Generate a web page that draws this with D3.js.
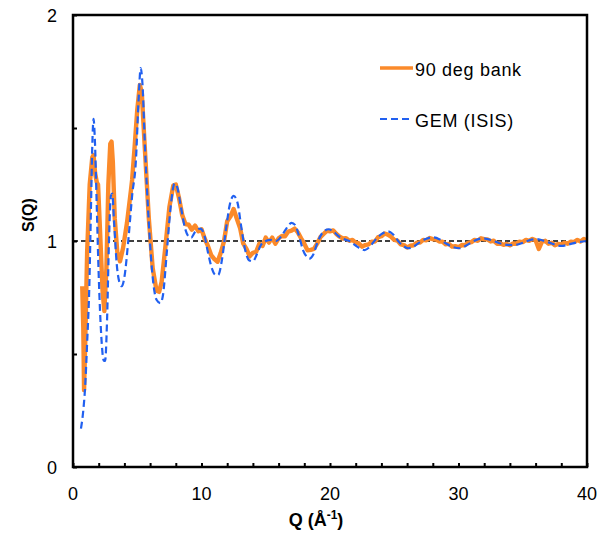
<!DOCTYPE html>
<html>
<head>
<meta charset="utf-8">
<script src="https://cdn.jsdelivr.net/npm/d3@7"></script>
<style>
  html, body { margin: 0; padding: 0; background: #fff; }
  svg text { font-family: "Liberation Sans", Arial, sans-serif; }
</style>
</head>
<body>
<svg id="chart" width="609" height="534"></svg>
<script>
// ---- data ----
const xTickValues = [0, 10, 20, 30, 40];
const yTickValues = [0, 1, 2];
const seriesNames = ["90 deg bank", "GEM (ISIS)"];

const bankQ = [0.72,0.80,0.86,0.95,1.1,1.3,1.5,1.6,1.72,1.85,1.95,2.1,2.3,2.44,2.6,2.75,2.9,3.0,3.1,3.25,3.45,3.66,3.9,4.2,4.5,4.6,4.8,5.0,5.2,5.35,5.6,5.9,6.2,6.5,6.7,6.9,7.2,7.5,7.8,
8.0,8.25,8.5,8.75,9.0,9.25,9.5,9.75,10.0,10.25,10.5,10.75,11.0,11.25,11.5,11.75,12.0,12.25,12.5,12.75,13.0,13.25,13.5,13.75,14.0,14.25,14.5,14.75,15.0,15.25,15.5,15.75,16.0,16.25,16.5,16.75,17.0,17.25,17.5,17.75,18.0,18.25,18.5,18.75,19.0,19.25,19.5,19.75,20.0,20.25,20.5,20.75,21.0,21.25,21.5,21.75,22.0,22.25,22.5,22.75,23.0,23.25,23.5,23.75,24.0,24.25,24.5,24.75,25.0,25.25,25.5,25.75,26.0,26.25,26.5,26.75,27.0,27.25,27.5,27.75,28.0,28.25,28.5,28.75,29.0,29.25,29.5,29.75,30.0,30.25,30.5,30.75,31.0,31.25,31.5,31.75,32.0,32.25,32.5,32.75,33.0,33.25,33.5,33.75,34.0,34.25,34.5,34.75,35.0,35.25,35.5,35.75,36.0,36.25,36.5,36.75,37.0,37.25,37.5,37.75,38.0,38.25,38.5,38.75,39.0,39.25,39.5,39.75,40.0];
const bankS = [0.80,0.62,0.34,0.55,0.95,1.25,1.37,1.38,1.30,1.26,1.25,1.05,0.78,0.69,0.88,1.25,1.43,1.44,1.35,1.10,0.95,0.91,0.97,1.08,1.22,1.27,1.42,1.58,1.69,1.66,1.40,1.10,0.88,0.78,0.775,0.82,0.98,1.15,1.245,
1.25,1.19,1.115,1.075,1.072,1.05,1.068,1.043,1.052,1.01,0.978,0.938,0.92,0.908,0.948,0.998,1.088,1.108,1.142,1.098,1.058,0.988,0.965,0.932,0.948,0.952,0.988,0.978,1.015,0.993,1.015,0.988,1.012,1.022,1.021,1.042,1.046,1.055,1.038,1.012,0.988,0.959,0.961,0.965,0.988,1.017,1.031,1.045,1.043,1.047,1.031,1.019,1.011,1.012,1.001,1.005,0.993,0.989,0.975,0.982,0.985,0.997,0.998,1.017,1.021,1.033,1.028,1.019,1.005,1.002,0.985,0.982,0.971,0.979,0.981,0.992,0.993,1.005,1.003,1.013,1.008,1.007,0.998,0.997,0.985,0.987,0.975,0.977,0.973,0.982,0.981,0.992,0.995,1.005,1.001,1.012,1.008,1.007,0.998,1.001,0.988,0.989,0.983,0.987,0.981,0.989,0.988,0.997,0.995,1.005,1.001,1.009,1.003,0.965,0.997,1.001,0.988,0.992,0.981,0.987,0.985,0.992,0.988,0.997,0.995,1.005,0.998,1.009,1.0];

const gemQ = [0.62,0.8,0.95,1.1,1.27,1.4,1.5,1.6,1.7,1.85,2.0,2.2,2.4,2.5,2.65,2.8,2.95,3.05,3.2,3.4,3.6,3.8,4.0,4.3,4.6,4.9,5.1,5.27,5.4,5.6,5.9,6.2,6.5,6.8,7.0,7.3,7.6,7.9,8.1,8.4,8.7,9.0,9.2,9.5,9.9,10.2,10.5,10.8,11.1,11.3,11.6,11.9,12.2,12.5,12.8,13.1,13.4,13.7,14.0,14.3,14.6,15.0,15.4,15.8,16.2,16.6,17.0,17.3,17.6,17.9,18.2,18.4,18.7,19.0,19.4,19.9,20.3,20.7,21.0,21.5,22.0,22.4,22.7,23.1,23.6,24.0,24.5,24.9,25.3,25.7,26.1,26.5,27.0,27.5,28.0,28.5,29.0,29.5,30.1,30.6,31.2,31.9,32.5,33.2,33.8,34.3,34.9,35.5,36.1,36.7,37.3,38.0,38.6,39.3,40.0];
const gemS = [0.17,0.25,0.36,0.55,0.80,1.15,1.42,1.54,1.45,1.15,0.85,0.58,0.47,0.47,0.65,1.0,1.2,1.21,1.08,0.9,0.82,0.80,0.84,1.0,1.2,1.36,1.62,1.765,1.70,1.42,1.08,0.84,0.74,0.725,0.76,0.95,1.15,1.255,1.24,1.15,1.06,1.02,1.015,1.04,1.055,1.03,0.95,0.88,0.85,0.85,0.92,1.05,1.16,1.2,1.17,1.06,0.96,0.915,0.91,0.94,0.98,1.0,1.005,1.0,1.02,1.055,1.08,1.07,1.02,0.96,0.93,0.922,0.94,0.99,1.035,1.052,1.04,1.02,1.01,1.0,0.98,0.965,0.96,0.975,1.01,1.03,1.043,1.03,1.0,0.978,0.968,0.975,0.995,1.01,1.016,1.008,0.99,0.975,0.968,0.98,1.0,1.012,1.005,0.99,0.983,0.982,0.99,1.003,1.008,1.0,0.988,0.978,0.985,0.995,1.0];

// ---- layout ----
const svg = d3.select("#chart");
const L = 73, R = 587, T = 15, B = 467;
const x = d3.scaleLinear().domain([0, 40]).range([L, R]);
const y = d3.scaleLinear().domain([0, 2]).range([B, T]);

const orange = "#fb8a2a", blue = "#2160f0";

// reference line at S=1
svg.append("line")
  .attr("x1", x(0)).attr("x2", x(40)).attr("y1", y(1)).attr("y2", y(1))
  .attr("stroke", "#000").attr("stroke-width", 1.5).attr("stroke-dasharray", "5,3");

const bankData = bankQ.map((q, i) => [q, bankS[i]]);
const gemData = gemQ.map((q, i) => [q, gemS[i]]);

svg.append("path")
  .attr("d", d3.line().x(d => x(d[0])).y(d => y(d[1]))(bankData))
  .attr("fill", "none").attr("stroke", orange).attr("stroke-width", 4.4)
  .attr("stroke-linejoin", "round");
svg.append("path")
  .attr("d", d3.line().curve(d3.curveMonotoneX).x(d => x(d[0])).y(d => y(d[1]))(gemData))
  .attr("fill", "none").attr("stroke", blue).attr("stroke-width", 2.2)
  .attr("stroke-dasharray", "7,4");

// frame
svg.append("rect").attr("x", L).attr("y", T).attr("width", R - L).attr("height", B - T)
  .attr("fill", "none").attr("stroke", "#000").attr("stroke-width", 2.5);

// axes (inside ticks)
const xAxis = d3.axisBottom(x).tickValues(d3.range(0, 41, 2)).tickSize(-4).tickFormat("");
const gx = svg.append("g").attr("transform", `translate(0,${B})`).call(xAxis);
gx.select(".domain").remove();
gx.selectAll(".tick line").attr("stroke", "#000").attr("stroke-width", 2);

const yAxis = d3.axisLeft(y).tickValues(d3.range(0, 2.01, 0.5)).tickSize(-4).tickFormat("");
const gy = svg.append("g").attr("transform", `translate(${L},0)`).call(yAxis);
gy.select(".domain").remove();
gy.selectAll(".tick line").attr("stroke", "#000").attr("stroke-width", 2);

// tick labels
svg.selectAll(".xlab").data(xTickValues).enter().append("text")
  .attr("x", d => x(d)).attr("y", 500).attr("text-anchor", "middle")
  .attr("font-size", 18).attr("fill", "#000").text(d => d);
svg.selectAll(".ylab").data(yTickValues).enter().append("text")
  .attr("x", 57).attr("y", d => y(d) + 6.5).attr("text-anchor", "end")
  .attr("font-size", 18).attr("fill", "#000").text(d => d);

// axis titles
const xt = svg.append("text").attr("x", 316).attr("y", 526).attr("text-anchor", "middle")
  .attr("font-size", 18).attr("font-weight", "bold").attr("fill", "#000");
xt.append("tspan").text("Q (Å");
xt.append("tspan").attr("font-size", 12).attr("dy", -7).text("-1");
xt.append("tspan").attr("dy", 7).text(")");

svg.append("text").attr("transform", "translate(34,215) rotate(-90)")
  .attr("text-anchor", "middle").attr("font-size", 16).attr("font-weight", "bold")
  .attr("fill", "#000").text("S(Q)");

// legend
const leg = [{name: seriesNames[0], color: orange, dash: null, w: 3.6, y: 68},
             {name: seriesNames[1], color: blue, dash: "7,4", w: 2.2, y: 119}];
leg.forEach(d => {
  svg.append("line").attr("x1", 380).attr("x2", 413).attr("y1", d.y).attr("y2", d.y)
    .attr("stroke", d.color).attr("stroke-width", d.w).attr("stroke-dasharray", d.dash);
  svg.append("text").attr("x", 415).attr("y", d.y + 8).attr("font-size", 18)
    .attr("letter-spacing", 0.7).attr("fill", "#000").text(d.name);
});
</script>
</body>
</html>
